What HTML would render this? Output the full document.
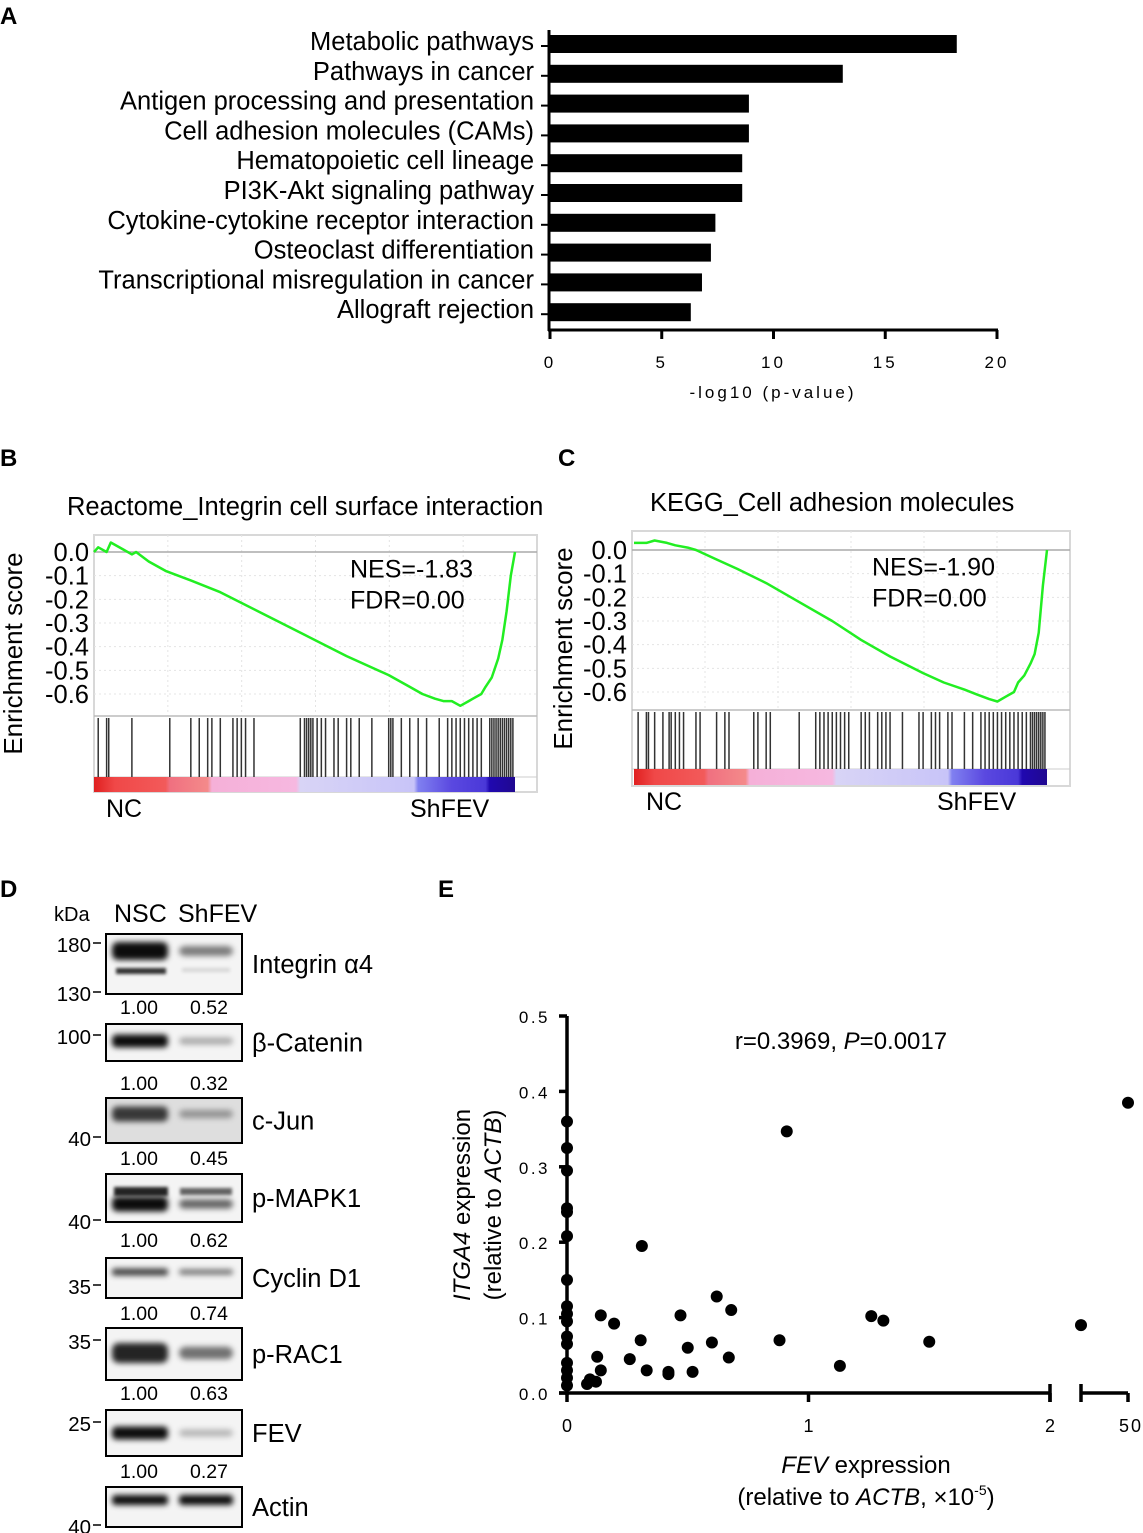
<!DOCTYPE html>
<html><head><meta charset="utf-8"><style>
html,body{margin:0;padding:0;background:#fff;}
svg{display:block;font-family:"Liberation Sans",sans-serif;}
</style></head><body>
<svg id="fig" width="1143" height="1533" viewBox="0 0 1143 1533" xmlns="http://www.w3.org/2000/svg">
<defs>
<filter id="blur2" x="-30%" y="-150%" width="160%" height="400%"><feGaussianBlur stdDeviation="3"/></filter>
<filter id="blur1" x="-20%" y="-100%" width="140%" height="300%"><feGaussianBlur stdDeviation="1.6"/></filter>
<linearGradient id="cbar" x1="0" x2="1" y1="0" y2="0">
<stop offset="0" stop-color="#e02020"/><stop offset="0.05" stop-color="#f04848"/><stop offset="0.17" stop-color="#f25a5a"/><stop offset="0.18" stop-color="#f07080"/><stop offset="0.27" stop-color="#f48a8a"/><stop offset="0.28" stop-color="#f5b0d8"/><stop offset="0.48" stop-color="#f6b8e0"/><stop offset="0.49" stop-color="#d8d4f6"/><stop offset="0.76" stop-color="#c8c4f8"/><stop offset="0.77" stop-color="#8080f0"/><stop offset="0.85" stop-color="#5a48e0"/><stop offset="0.93" stop-color="#4a38d8"/><stop offset="0.94" stop-color="#2008b0"/><stop offset="1" stop-color="#200890"/>
</linearGradient>
</defs>
<g font-weight="bold" font-size="24" fill="#000">
<text x="0" y="24">A</text>
<text x="0" y="466">B</text>
<text x="558" y="466">C</text>
<text x="0" y="897">D</text>
<text x="438" y="897">E</text>
</g>
<g id="panelA"></g>
<g id="panelB"></g>
<g id="panelC"></g>
<g id="panelD"></g>
<g id="panelE"></g>
</svg>
<script>
const NS="http://www.w3.org/2000/svg";
// ---- Panel A data ----
const pathways=["Metabolic pathways","Pathways in cancer","Antigen processing and presentation","Cell adhesion molecules (CAMs)","Hematopoietic cell lineage","PI3K-Akt signaling pathway","Cytokine-cytokine receptor interaction","Osteoclast differentiation","Transcriptional misregulation in cancer","Allograft rejection"];
const logP=[18.2,13.1,8.9,8.9,8.6,8.6,7.4,7.2,6.8,6.3];
const aTicks=[0,5,10,15,20];
// ---- Panel B/C data ----
const esTicks=[0.0,-0.1,-0.2,-0.3,-0.4,-0.5,-0.6];
const bRank=[0,0.01,0.03,0.04,0.07,0.09,0.1,0.13,0.17,0.23,0.3,0.4,0.5,0.6,0.7,0.75,0.78,0.81,0.83,0.85,0.87,0.89,0.9,0.92,0.93,0.945,0.96,0.97,0.98,0.99,1];
const bES=[0,0.02,0.0,0.04,0.01,-0.01,0.0,-0.04,-0.08,-0.12,-0.17,-0.26,-0.35,-0.44,-0.52,-0.57,-0.6,-0.62,-0.63,-0.63,-0.65,-0.63,-0.62,-0.6,-0.57,-0.53,-0.45,-0.37,-0.25,-0.1,0.0];
const bHits=[0.01,0.03,0.035,0.09,0.18,0.23,0.25,0.27,0.28,0.3,0.33,0.34,0.35,0.36,0.38,0.49,0.5,0.505,0.51,0.515,0.52,0.53,0.54,0.55,0.57,0.58,0.6,0.61,0.63,0.66,0.7,0.705,0.71,0.73,0.75,0.77,0.79,0.82,0.84,0.85,0.86,0.87,0.88,0.89,0.9,0.91,0.92,0.94,0.945,0.95,0.955,0.96,0.965,0.97,0.975,0.98,0.985,0.99,0.995];
const cRank=[0,0.03,0.05,0.08,0.1,0.13,0.15,0.2,0.25,0.32,0.4,0.48,0.55,0.62,0.7,0.75,0.8,0.83,0.86,0.88,0.9,0.92,0.93,0.945,0.96,0.97,0.98,0.99,1];
const cES=[0.03,0.03,0.04,0.03,0.02,0.01,0.0,-0.04,-0.08,-0.14,-0.22,-0.3,-0.38,-0.45,-0.52,-0.56,-0.59,-0.61,-0.63,-0.64,-0.62,-0.6,-0.56,-0.53,-0.48,-0.44,-0.35,-0.15,0.0];
const cHits=[0.01,0.03,0.035,0.05,0.07,0.085,0.09,0.1,0.11,0.12,0.15,0.16,0.2,0.22,0.23,0.29,0.3,0.32,0.33,0.4,0.44,0.45,0.46,0.47,0.48,0.49,0.5,0.51,0.52,0.55,0.56,0.57,0.59,0.6,0.61,0.62,0.65,0.69,0.7,0.72,0.73,0.74,0.76,0.77,0.8,0.82,0.84,0.85,0.86,0.87,0.88,0.89,0.9,0.91,0.92,0.93,0.94,0.95,0.96,0.965,0.97,0.975,0.98,0.985,0.99,0.995];
// ---- Panel D data ----
const blotNames=["Integrin α4","β-Catenin","c-Jun","p-MAPK1","Cyclin D1","p-RAC1","FEV","Actin"];
const blotNSC=["1.00","1.00","1.00","1.00","1.00","1.00","1.00",""];
const blotSh=["0.52","0.32","0.45","0.62","0.74","0.63","0.27",""];
const blotRatio=[0.52,0.32,0.45,0.62,0.74,0.63,0.27,1.0];
const kdaLabels=["180","130","100","40","40","35","35","25","40"];
// ---- Panel E data ----
const fevExpr=[0,0,0,0,0,0,0,0,0,0,0,0,0,0,0,0,0.14,0.195,0.125,0.14,0.083,0.095,0.12,0.31,0.305,0.26,0.33,0.42,0.42,0.47,0.5,0.52,0.62,0.6,0.68,0.67,0.88,0.91,1.13,1.26,1.31,1.5];
const itgaExpr=[0.36,0.325,0.295,0.245,0.24,0.208,0.15,0.115,0.105,0.095,0.075,0.065,0.04,0.03,0.02,0.01,0.103,0.092,0.048,0.03,0.012,0.018,0.015,0.195,0.07,0.045,0.03,0.028,0.025,0.103,0.06,0.028,0.128,0.067,0.11,0.047,0.07,0.347,0.036,0.102,0.096,0.068];
const fevHigh=[45,50];
const itgaHigh=[0.09,0.385];
const eYTicks=["0.0","0.1","0.2","0.3","0.4","0.5"];
const eXTicks=["0","1","2"];

function el(tag,attrs,parent,txt){const e=document.createElementNS(NS,tag);for(const k in attrs)e.setAttribute(k,attrs[k]);if(txt!==undefined)e.textContent=txt;parent.appendChild(e);return e;}

// ===== Panel A =====
(function(){
const g=document.getElementById('panelA');
const x0=550,x1=997,xs=v=>x0+(x1-x0)*v/20;
const rowY=i=>44+i*29.8;
pathways.forEach((p,i)=>{
 const r=el('rect',{x:xs(0),y:rowY(i)-9,width:xs(logP[i])-xs(0),height:18,fill:'#000'},g);
 
 
 const t=el('text',{x:534,y:rowY(i)+6,'text-anchor':'end','font-size':25.5},g,p);
 
 
 el('line',{x1:541,x2:550,y1:rowY(i)+2,y2:rowY(i)+2,stroke:'#000','stroke-width':2},g);
});
el('line',{x1:549,x2:549,y1:30,y2:331,stroke:'#000','stroke-width':3},g);
el('line',{x1:548,x2:998,y1:330,y2:330,stroke:'#000','stroke-width':3},g);
aTicks.forEach(v=>{
 el('line',{x1:xs(v),x2:xs(v),y1:330,y2:339,stroke:'#000','stroke-width':3},g);
 const t=el('text',{x:xs(v),y:368,'text-anchor':'middle','font-size':17,'letter-spacing':3},g,String(v));
 
 
});
const tt=el('text',{x:773,y:398,'text-anchor':'middle','font-size':17,'letter-spacing':3},g,'-log10 (p-value)');


})();

// ===== Panels B / C =====
function gsea(gid,o,rank,es,hits,title,nes){
 const g=document.getElementById(gid);
 const ys=v=>o.y0+(o.y6-o.y0)*(v/-0.6);
 const xs=f=>o.cl+(o.cr-o.cl)*f;
 const t=el('text',{x:o.tx,y:o.ty,'font-size':25.5},g,title);
 
 
 el('rect',{x:o.bl,y:o.bt,width:o.br-o.bl,height:o.bb-o.bt,fill:'#fff',stroke:'#d8d8d8','stroke-width':2},g);
 for(let i=1;i<6;i++) el('line',{x1:o.bl+(o.br-o.bl)*i/6,x2:o.bl+(o.br-o.bl)*i/6,y1:o.bt,y2:o.ht,stroke:'#e4e4e4','stroke-dasharray':'2,3'},g);
 esTicks.forEach(v=>{
  if(v!==0) el('line',{x1:o.bl,x2:o.br,y1:ys(v),y2:ys(v),stroke:'#e4e4e4','stroke-dasharray':'2,3'},g);
  const lt=el('text',{x:o.bl-5,y:ys(v)+9,'text-anchor':'end','font-size':25.5},g,v.toFixed(1));
  
  
 });
 el('line',{x1:o.bl,x2:o.br,y1:ys(0),y2:ys(0),stroke:'#aaa','stroke-width':1.5},g);
 el('line',{x1:o.bl,x2:o.br,y1:o.ht,y2:o.ht,stroke:'#bbb','stroke-width':1.5},g);
 el('line',{x1:o.bl,x2:o.br,y1:o.ct,y2:o.ct,stroke:'#ccc','stroke-width':1},g);
 hits.forEach(h=>{el('line',{x1:xs(h),x2:xs(h),y1:o.ht+2,y2:o.ct,stroke:'#333','stroke-width':1.5},g);});
 const cb=el('rect',{x:o.cl,y:o.ct,width:o.cr-o.cl,height:o.cb-o.ct,fill:'url(#cbar)'},g);
 
 
 const pts=rank.map((r,i)=>xs(r).toFixed(1)+','+ys(es[i]).toFixed(1)).join(' ');
 const pl=el('polyline',{points:pts,fill:'none',stroke:'#22ee22','stroke-width':2.5,'stroke-linejoin':'round'},g);
 
 
 const ay=el('text',{transform:`translate(${o.ylx},${(o.bt+o.bb)/2-10}) rotate(-90)`,'text-anchor':'middle','font-size':26},g,'Enrichment score');
 
 
 const n1=el('text',{x:o.nx,y:ys(-0.07)+9,'font-size':25},g,nes);
 
 
 const n2=el('text',{x:o.nx,y:ys(-0.2)+9,'font-size':25},g,'FDR=0.00');
 
 
 const l1=el('text',{x:o.cl+12,y:o.cb+25,'font-size':25},g,'NC');
 
 
 const l2=el('text',{x:o.shx,y:o.cb+25,'font-size':25},g,'ShFEV');
 
 
}
gsea('panelB',{bl:94,br:537,bt:535,bb:792,y0:552,y6:694,ht:716,ct:777,cb:792,cl:94,cr:515,tx:67,ty:515,ylx:22,nx:350,shx:410},bRank,bES,bHits,'Reactome_Integrin cell surface interaction','NES=-1.83');
gsea('panelC',{bl:632,br:1070,bt:531,bb:786,y0:550,y6:692,ht:710,ct:769,cb:785,cl:634,cr:1047,tx:650,ty:511,ylx:572,nx:872,shx:937},cRank,cES,cHits,'KEGG_Cell adhesion molecules','NES=-1.90');

// ===== Panel D =====
(function(){
const g=document.getElementById('panelD');
const boxes=[[934,994],[1024,1061],[1098,1143],[1174,1222],[1258,1298],[1328,1380],[1410,1456],[1487,1527]];
const numY=[1014,1090,1165,1247,1320,1400,1478];
const bandY=[[951,0.95,18],[1041,0.95,13],[1114,0.75,15],[1204,0.95,15],[1272,0.75,7],[1353,0.85,20],[1433,0.95,13],[1500,0.95,10]];
const kdaY=[945,994,1037,1139,1222,1287,1342,1424,1527];
const tx=el('text',{x:54,y:921,'font-size':20},g,'kDa');


const h1=el('text',{x:114,y:922,'font-size':25}, g,'NSC');


const h2=el('text',{x:178,y:922,'font-size':25},g,'ShFEV');


boxes.forEach((b,i)=>{
 const bg=el('rect',{x:106,y:b[0],width:136,height:b[1]-b[0],fill:(i===2?'#dedede':'#f4f4f4'),stroke:'#000','stroke-width':2},g);
 
 
 const [cy,op,h]=bandY[i];
 el('rect',{x:112,y:cy-h/2,width:56,height:h,rx:h/3,fill:'#000','fill-opacity':op,filter:'url(#blur2)'},g);
 const s=Math.max(0.55,blotRatio[i]);
 const bs=el('rect',{x:179,y:cy-h/2*s,width:54,height:h*s,rx:h/3,fill:'#000','fill-opacity':op*Math.max(0.2,blotRatio[i]),filter:'url(#blur2)'},g);
 
 
 if(i===0){el('rect',{x:116,y:968,width:50,height:6,fill:'#000','fill-opacity':0.8,filter:'url(#blur1)'},g);el('rect',{x:182,y:968,width:48,height:4,fill:'#000','fill-opacity':0.12,filter:'url(#blur1)'},g);}
 if(i===3){el('rect',{x:114,y:1187,width:54,height:9,fill:'#000','fill-opacity':0.85,filter:'url(#blur1)'},g);el('rect',{x:180,y:1188,width:52,height:7,fill:'#000','fill-opacity':0.6,filter:'url(#blur1)'},g);}
 const an=el('text',{x:252,y:(b[0]+b[1])/2+9,'font-size':25.5},g,blotNames[i]);
 
 
 if(blotNSC[i]){
  const a=el('text',{x:139,y:numY[i],'text-anchor':'middle','font-size':19.5},g,blotNSC[i]);
  
  
  const c=el('text',{x:209,y:numY[i],'text-anchor':'middle','font-size':19.5},g,blotSh[i]);
  
  
 }
});
kdaLabels.forEach((k,i)=>{
 const t=el('text',{x:91,y:kdaY[i]+7,'text-anchor':'end','font-size':20.5},g,k);
 
 
 el('line',{x1:93,x2:101,y1:kdaY[i]-2,y2:kdaY[i]-2,stroke:'#000','stroke-width':1.5},g);
});
})();

// ===== Panel E =====
(function(){
const g=document.getElementById('panelE');
const X0=567,X2=1050,Y0=1393,Y5=1016;
const xs=v=>X0+(X2-X0)*v/2;
const xh=v=>1081+(1128-1081)*(v-45)/5;
const ys=v=>Y0+(Y5-Y0)*v/0.5;
el('line',{x1:X0,x2:X0,y1:Y5,y2:Y0+2,stroke:'#000','stroke-width':3.5},g);
el('line',{x1:X0-8,x2:X2,y1:Y0,y2:Y0,stroke:'#000','stroke-width':3.5},g);
el('line',{x1:1081,x2:1128,y1:Y0,y2:Y0,stroke:'#000','stroke-width':3.5},g);
el('line',{x1:1081,x2:1081,y1:Y0-9,y2:Y0+9,stroke:'#000','stroke-width':3.5},g);
el('line',{x1:X2,x2:X2,y1:Y0-9,y2:Y0+9,stroke:'#000','stroke-width':3.5},g);
el('line',{x1:1128,x2:1128,y1:Y0,y2:Y0+9,stroke:'#000','stroke-width':3.5},g);
eYTicks.forEach(s=>{
 const v=parseFloat(s);
 el('line',{x1:X0-8,x2:X0,y1:ys(v),y2:ys(v),stroke:'#000','stroke-width':3.5},g);
 const t=el('text',{x:550,y:ys(v)+7,'text-anchor':'end','font-size':17,'letter-spacing':2.5},g,s);
 
 
});
eXTicks.forEach(s=>{
 const v=parseFloat(s);
 el('line',{x1:xs(v),x2:xs(v),y1:Y0,y2:Y0+9,stroke:'#000','stroke-width':3.5},g);
 const t=el('text',{x:xs(v),y:1432,'text-anchor':'middle','font-size':18},g,s);
 
 
});
const t50=el('text',{x:1131,y:1432,'text-anchor':'middle','font-size':18,'letter-spacing':2},g,'50');


fevExpr.forEach((v,i)=>{
 const c=el('circle',{cx:xs(v),cy:ys(itgaExpr[i]),r:6,fill:'#000'},g);
 
 
});
fevHigh.forEach((v,i)=>{
 const c=el('circle',{cx:xh(v),cy:ys(itgaHigh[i]),r:6,fill:'#000'},g);
 
 
});
const an=el('text',{x:841,y:1049,'text-anchor':'middle','font-size':24},g);


an.innerHTML='r=0.3969, <tspan font-style="italic">P</tspan>=0.0017';
const yt=el('text',{transform:'translate(470,1205) rotate(-90)','text-anchor':'middle','font-size':24},g);


yt.innerHTML='<tspan font-style="italic">ITGA4</tspan> expression';
const yt2=el('text',{transform:'translate(501,1205) rotate(-90)','text-anchor':'middle','font-size':24},g);


yt2.innerHTML='(relative to <tspan font-style="italic">ACTB</tspan>)';
const xt=el('text',{x:866,y:1473,'text-anchor':'middle','font-size':24},g);


xt.innerHTML='<tspan font-style="italic">FEV</tspan> expression';
const xt2=el('text',{x:866,y:1505,'text-anchor':'middle','font-size':24},g);


xt2.innerHTML='(relative to <tspan font-style="italic">ACTB</tspan>, ×10<tspan font-size="14" dy="-10">-5</tspan><tspan dy="10">)</tspan>';
})();
</script>
</body></html>
